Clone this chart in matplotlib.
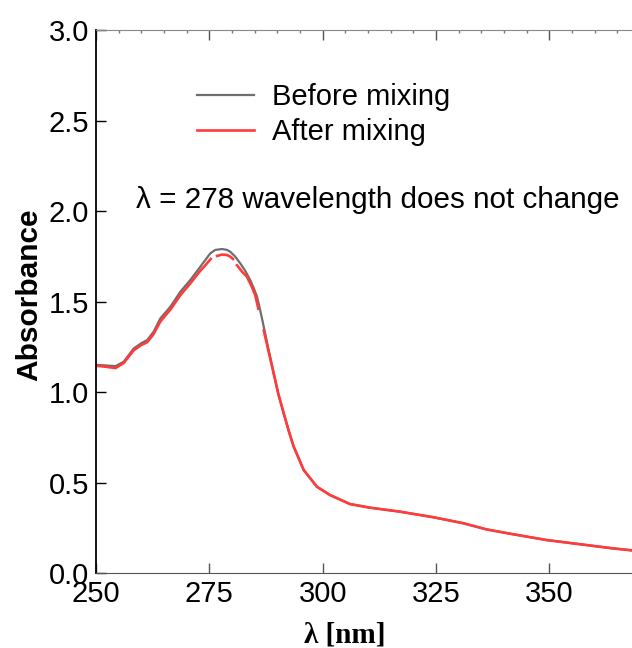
import numpy as np
import matplotlib
matplotlib.use("Agg")
import matplotlib.pyplot as plt
from matplotlib.ticker import MultipleLocator

plt.rcParams['font.family'] = ['Liberation Sans', 'DejaVu Sans']

# wavelength (nm) and absorbance
wl_before = [250, 252, 254.3, 256.1, 258.3, 260, 261.3, 262.7, 264.2, 266.4,
             268.6, 270.8, 273.0, 274.1, 275.2, 276.3, 277.8, 278.9, 279.6, 280.7,
             281.8, 282.9, 284.0, 284.8, 285.5, 286.2, 287.0, 288.0, 289.2, 290.2,
             291.4, 292.5, 293.6, 295.8, 298.7, 301.6, 306.0, 310.4, 317.0, 324.4,
             331.0, 336.1, 342.0, 349.4, 356.7, 364.0, 368.2]
abs_before = [1.15, 1.147, 1.143, 1.167, 1.24, 1.27, 1.287, 1.333, 1.407, 1.471,
              1.554, 1.619, 1.692, 1.729, 1.766, 1.785, 1.79, 1.785, 1.775, 1.748,
              1.711, 1.67, 1.619, 1.573, 1.527, 1.453, 1.36, 1.24, 1.103, 0.99,
              0.882, 0.785, 0.698, 0.569, 0.477, 0.431, 0.381, 0.361, 0.339, 0.308,
              0.275, 0.241, 0.214, 0.182, 0.159, 0.136, 0.125]

# red trace has a few small breaks near the peak (nan = gap)
wl_after = [250, 252, 254.3, 256.1, 258.3, 260, 261.3, 262.7, 264.2, 266.4,
            268.6, 270.8, 273.0, 274.1, 275.3, 276.0, 276.7, 277.8, 278.9, 279.6,
            280.2, 280.6, 281.1, 282.2, 283.3, 284.2, 285.1, 285.8, 286.4, 287.0,
            288.0, 289.2, 290.2, 291.4, 292.5, 293.6, 295.8, 298.7, 301.6, 306.0,
            310.4, 317.0, 324.4, 331.0, 336.1, 342.0, 349.4, 356.7, 364.0, 368.2]
abs_after = [1.145, 1.14, 1.132, 1.16, 1.23, 1.26, 1.275, 1.32, 1.39, 1.455,
             1.535, 1.60, 1.67, 1.70, 1.735, np.nan, 1.752, 1.759, 1.757, 1.748,
             1.735, np.nan, 1.70, 1.665, 1.637, 1.59, 1.536, 1.46, np.nan, 1.34,
             1.23, 1.10, 0.99, 0.882, 0.785, 0.698, 0.569, 0.477, 0.431, 0.381,
             0.361, 0.339, 0.308, 0.275, 0.241, 0.214, 0.182, 0.159, 0.136, 0.125]

fig = plt.figure(figsize=(6.32, 6.48), dpi=100)
ax = fig.add_axes([96 / 632, 75 / 648, 536 / 632, 543 / 648])

ax.plot(wl_before, abs_before, color='#6e6e6e', lw=1.6, label='Before mixing',
        solid_joinstyle='round')
ax.plot(wl_after, abs_after, color='#ff3b3b', lw=1.9, label='After mixing',
        solid_joinstyle='round')

ax.set_xlim(250, 368.2)
ax.set_ylim(0, 3.0)
ax.xaxis.set_major_locator(MultipleLocator(25))
ax.xaxis.set_minor_locator(MultipleLocator(5))
ax.set_yticks([0, 0.5, 1.0, 1.5, 2.0, 2.5, 3.0])
ax.set_yticklabels(['0.0', '0.5', '1.0', '1.5', '2.0', '2.5', '3.0'])

ax.tick_params(axis='x', which='major', direction='in', length=7, width=1,
               color='#555555', top=True, labelsize=21, pad=5)
ax.tick_params(axis='x', which='minor', direction='in', length=2, width=1,
               color='#777777', bottom=False, top=True)
ax.tick_params(axis='y', which='major', direction='in', length=7, width=1,
               color='black', labelsize=21, pad=5)

ax.spines['right'].set_visible(False)
ax.spines['top'].set_color('#888888')
ax.spines['bottom'].set_color('#555555')
ax.spines['left'].set_linewidth(1.3)

ax.set_ylabel('Absorbance', fontsize=21.5, fontweight='bold')
ax.yaxis.set_label_coords(-0.099, 0.512)
ax.set_xlabel('λ [nm]', fontsize=21, fontweight='bold',
              family=['Liberation Serif', 'DejaVu Serif'])
ax.xaxis.set_label_coords(0.465, -0.089)

ax.legend(loc='upper left', bbox_to_anchor=(0.14, 0.95), frameon=False,
          fontsize=21, handlelength=1.95, handletextpad=0.6, labelspacing=0.22)

ax.text(258.9, 2.06, 'λ = 278 wavelength does not change', fontsize=21.3,
        va='center', ha='left')

fig.savefig('out.png', dpi=100)
